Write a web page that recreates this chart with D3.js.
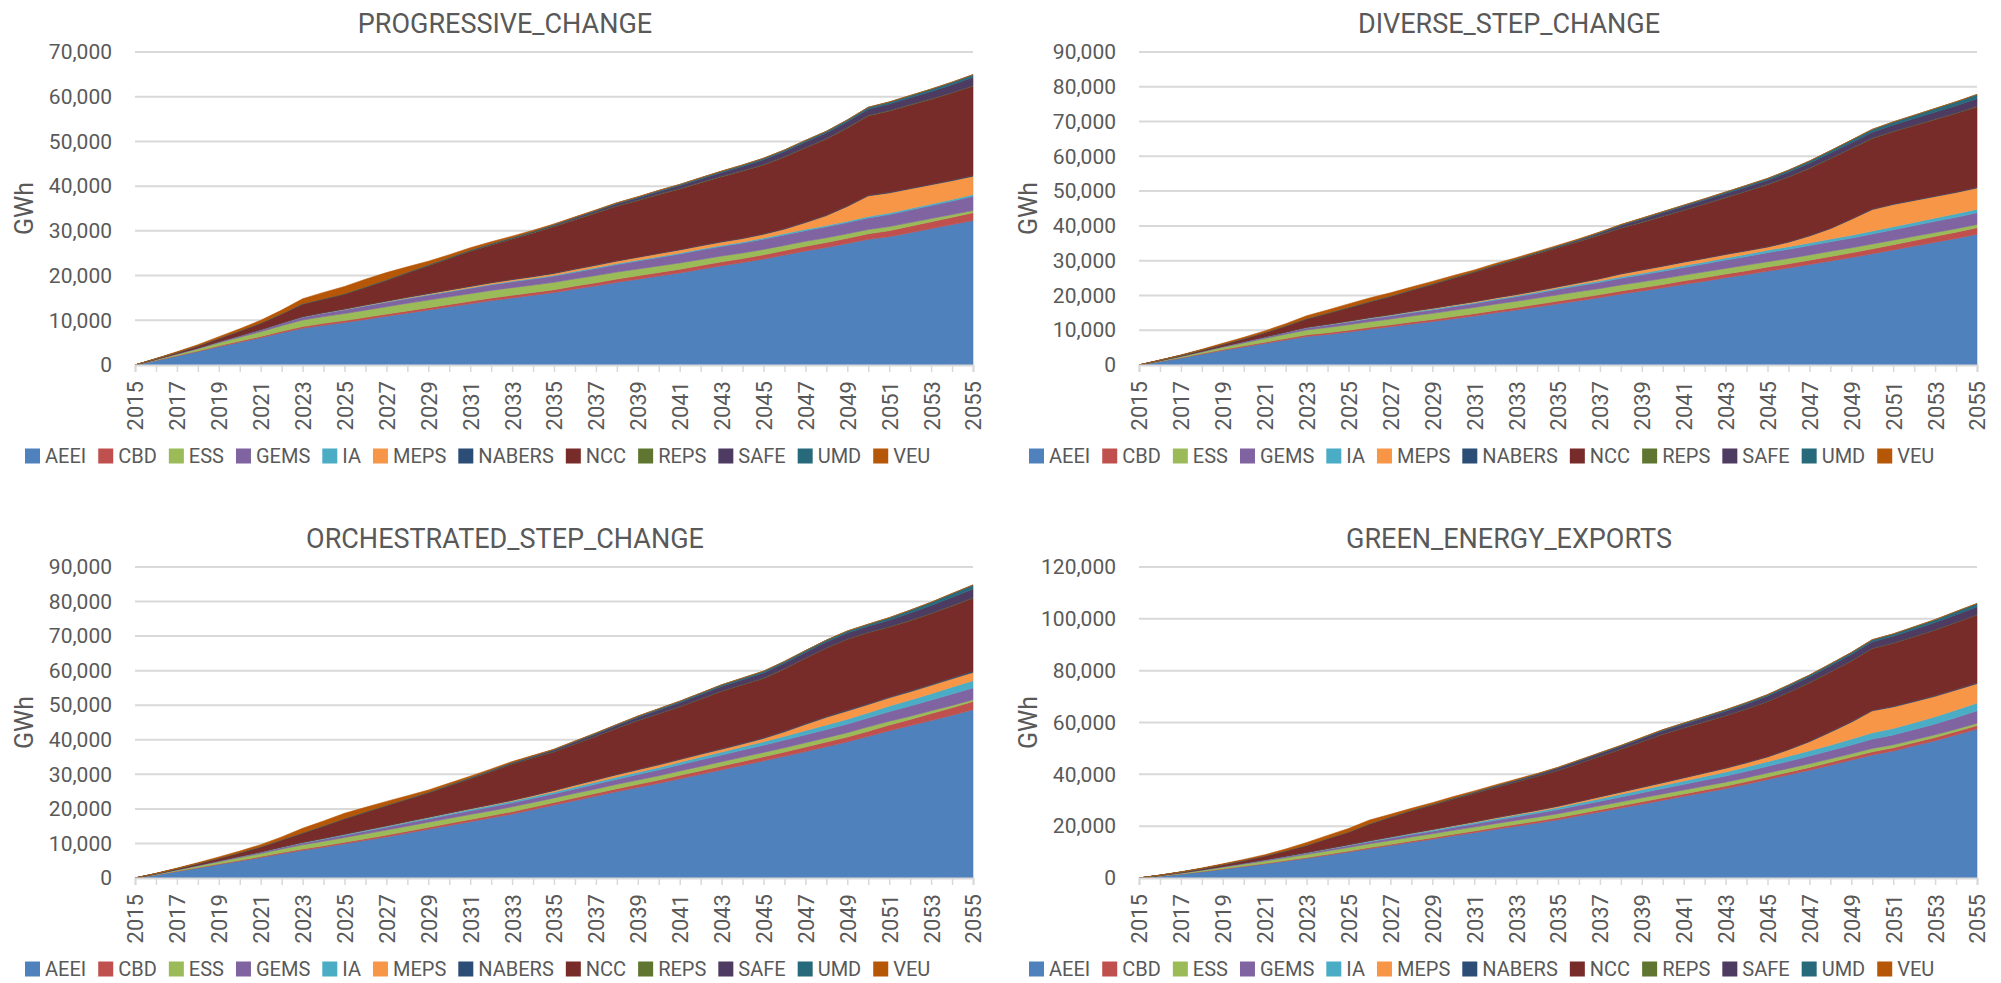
<!DOCTYPE html>
<html>
<head>
<meta charset="utf-8">
<script src="https://cdn.jsdelivr.net/npm/d3@7"></script>
<style>
  html, body { margin: 0; padding: 0; background: #ffffff; }
  svg text { font-family: Roboto, "Liberation Sans", Arial, sans-serif; fill: #595959; }
</style>
</head>
<body>
<svg id="chart" width="2001" height="983"></svg>
<script>
// ---- categories ----
const years = [2015,2016,2017,2018,2019,2020,2021,2022,2023,2024,2025,2026,2027,2028,2029,2030,2031,2032,2033,2034,2035,
               2036,2037,2038,2039,2040,2041,2042,2043,2044,2045,2046,2047,2048,2049,2050,2051,2052,2053,2054,2055];
const seriesNames = ["AEEI","CBD","ESS","GEMS","IA","MEPS","NABERS","NCC","REPS","SAFE","UMD","VEU"];
const scenarioTitles = ["PROGRESSIVE_CHANGE","DIVERSE_STEP_CHANGE","ORCHESTRATED_STEP_CHANGE","GREEN_ENERGY_EXPORTS"];
const yAxisMax  = [70000, 90000, 90000, 120000];
const yAxisStep = [10000, 10000, 10000, 20000];

// ---- PROGRESSIVE_CHANGE (GWh) ----
const PC_AEEI   = [0,1000,2000,3000,4100,5100,6100,7200,8200,8900,9500,10200,10900,11600,12300,13000,13700,14400,15000,15600,16200,17000,17700,18500,19200,19900,20600,21400,22200,22900,23700,24600,25500,26300,27200,28100,28700,29600,30500,31400,32300];
const PC_CBD    = [0,50,100,150,200,250,300,350,400,420,440,460,480,500,520,540,560,580,600,620,640,670,700,730,760,790,820,850,880,910,950,1000,1050,1100,1150,1250,1350,1450,1550,1650,1750];
const PC_ESS    = [0,150,300,450,650,850,1050,1250,1450,1500,1550,1600,1650,1700,1700,1700,1700,1700,1700,1650,1650,1600,1600,1550,1500,1450,1400,1350,1300,1250,1200,1150,1100,1050,1000,950,900,800,700,600,500];
const PC_GEMS   = [0,60,120,180,250,330,420,520,650,750,850,950,1000,1050,1100,1150,1200,1250,1300,1350,1400,1500,1600,1700,1800,1900,2000,2100,2150,2200,2300,2350,2400,2450,2500,2600,2700,2800,2900,3000,3200];
const PC_IA     = [0,5,10,15,20,30,40,50,60,70,80,90,100,110,120,130,140,150,160,170,180,190,200,210,220,230,240,250,260,270,280,290,300,310,320,330,340,350,360,370,380];
const PC_MEPS   = [0,0,0,0,0,0,0,0,30,60,90,120,150,180,210,240,270,300,330,360,400,450,500,550,600,650,680,700,720,750,800,1000,1500,2200,3300,4600,4500,4400,4300,4200,4100];
const PC_NABERS = [0,5,10,15,20,25,30,35,40,45,50,55,60,65,70,75,80,85,90,95,100,100,100,100,100,100,110,110,110,110,120,120,120,120,130,130,130,140,140,150,150];
const PC_NCC    = [0,100,250,450,700,1000,1400,2000,2800,3000,3300,3900,4600,5400,6200,7000,7800,8400,9000,9700,10400,11000,11600,12200,12600,13100,13500,14000,14500,15000,15400,16000,16600,17000,17400,17800,18200,18600,19000,19500,20000];
const PC_REPS   = [0,5,10,15,20,25,30,35,40,45,50,55,60,65,70,75,80,85,90,95,100,100,100,100,100,100,100,100,100,100,100,100,100,100,100,100,100,100,100,100,100];
const PC_SAFE   = [0,0,0,0,0,0,0,0,0,0,0,0,0,20,40,60,80,100,130,160,200,260,330,400,480,560,650,740,830,920,1050,1120,1180,1240,1290,1340,1430,1520,1620,1720,1850];
const PC_UMD    = [0,5,10,15,20,25,30,35,40,45,50,55,60,70,80,90,100,110,120,130,140,160,180,200,220,240,260,280,300,320,340,360,380,400,420,440,470,500,530,560,600];
const PC_VEU    = [0,80,160,250,350,450,600,800,1100,1400,1600,1700,1600,1200,800,600,500,400,300,200,150,100,80,60,50,40,30,20,10,0,0,0,0,0,0,0,0,0,0,0,0];

// ---- DIVERSE_STEP_CHANGE (GWh) ----
const DS_AEEI   = [0,1000,2000,3100,4200,5200,6200,7200,8200,8800,9500,10300,11000,11800,12500,13300,14100,15000,15800,16700,17600,18500,19400,20400,21300,22200,23200,24100,25100,26000,27000,27900,28900,29900,30900,32000,33100,34200,35300,36400,37600];
const DS_CBD    = [0,60,120,180,240,300,360,420,480,500,520,540,560,580,600,630,660,690,720,750,780,810,840,880,920,960,1000,1040,1080,1120,1160,1200,1250,1300,1350,1400,1500,1600,1700,1800,1900];
const DS_ESS    = [0,150,300,450,650,850,1050,1250,1400,1500,1550,1600,1650,1700,1750,1800,1800,1800,1800,1800,1800,1800,1750,1750,1700,1700,1650,1650,1600,1600,1550,1550,1500,1500,1450,1400,1300,1200,1100,1000,900];
const DS_GEMS   = [0,50,100,170,240,320,400,500,600,700,800,850,900,950,1000,1050,1100,1200,1300,1400,1600,1700,1800,1900,2000,2100,2200,2300,2400,2500,2600,2650,2700,2750,2800,2900,3000,3100,3200,3300,3400];
const DS_IA     = [0,10,20,30,40,50,60,80,100,120,140,160,180,200,220,240,260,280,300,330,350,380,410,440,470,500,530,560,600,650,700,720,740,760,780,800,850,900,950,1000,1000];
const DS_MEPS   = [0,0,0,0,0,0,0,0,50,80,110,140,170,200,230,260,280,300,320,340,350,450,600,800,900,950,1000,1000,1000,950,900,1300,2000,3000,4600,6200,6400,6300,6200,6100,6100];
const DS_NABERS = [0,5,10,15,20,25,30,35,40,45,50,55,60,65,70,75,80,85,90,95,100,100,100,110,110,110,120,120,120,130,130,130,140,140,150,150,160,160,170,170,180];
const DS_NCC    = [0,80,200,350,550,800,1200,1700,2400,3100,3800,4500,5200,6000,6800,7600,8400,9200,9900,10600,11200,11800,12500,13100,13600,14200,14800,15500,16200,17000,17800,18600,19300,20000,20200,20300,20800,21400,22000,22600,23200];
const DS_REPS   = [0,5,10,15,20,25,30,35,40,45,50,55,60,65,70,75,80,85,90,95,100,100,100,100,100,100,100,100,100,100,100,100,100,100,100,100,100,100,100,100,100];
const DS_SAFE   = [0,0,0,0,0,0,0,0,0,0,0,0,0,0,20,40,60,80,100,130,200,300,450,600,800,950,1000,1050,1100,1150,1200,1300,1400,1500,1600,1700,1800,1900,2000,2100,2200];
const DS_UMD    = [0,5,10,15,20,25,30,35,40,45,50,55,60,70,80,90,100,120,140,160,180,200,220,250,280,300,340,380,420,460,500,560,620,680,740,800,880,960,1040,1120,1200];
const DS_VEU    = [0,60,130,200,280,360,450,600,800,900,1000,1000,900,800,700,550,400,350,300,250,200,150,100,80,60,40,30,20,10,0,0,0,0,0,0,0,0,0,0,0,0];

// ---- ORCHESTRATED_STEP_CHANGE (GWh) ----
const OS_AEEI   = [0,900,1900,2900,3900,4900,5900,7000,8000,8900,9900,10900,11900,13000,14100,15200,16300,17400,18500,19800,21100,22400,23700,25000,26200,27400,28700,30000,31300,32600,33900,35200,36600,38000,39400,41000,42600,44100,45600,47100,48700];
const OS_CBD    = [0,50,100,150,200,250,300,350,400,430,460,490,520,550,580,610,640,670,700,730,760,790,820,860,900,950,1000,1050,1100,1150,1200,1250,1300,1350,1400,1500,1650,1800,2000,2200,2400];
const OS_ESS    = [0,150,300,450,600,750,900,1050,1200,1300,1350,1400,1450,1450,1450,1450,1450,1400,1400,1350,1300,1300,1250,1250,1250,1250,1250,1250,1250,1250,1250,1250,1250,1250,1250,1250,1100,900,800,650,500];
const OS_GEMS   = [0,50,100,160,220,290,360,440,520,600,680,760,830,900,960,1020,1080,1120,1160,1180,1200,1300,1400,1500,1600,1700,1800,1900,1950,2050,2100,2200,2300,2400,2500,2600,2800,3000,3100,3300,3400];
const OS_IA     = [0,10,20,40,60,80,100,130,160,190,220,250,280,310,340,370,400,430,470,510,550,580,610,640,670,700,750,800,850,900,1000,1100,1200,1300,1400,1450,1600,1700,1850,2000,2100];
const OS_MEPS   = [0,0,0,0,0,0,0,0,30,50,70,90,110,130,150,170,190,220,250,300,400,500,600,650,700,750,780,800,820,850,950,1300,1800,2200,2400,2400,2400,2400,2400,2400,2400];
const OS_NABERS = [0,5,10,15,20,25,30,35,40,45,50,55,60,65,70,75,80,85,90,95,100,110,120,130,140,150,160,170,180,190,200,210,220,230,240,250,260,270,280,290,300];
const OS_NCC    = [0,100,250,450,700,1000,1400,2000,2650,3500,4400,5100,5800,6400,7000,7800,8600,9500,10400,10800,11100,11800,12500,13300,14100,14600,15100,15800,16600,16900,17150,18000,18900,19800,20500,20600,20200,20300,20500,20800,21200];
const OS_REPS   = [0,5,10,15,20,25,30,35,40,45,50,55,60,65,70,75,80,85,90,95,100,100,100,100,100,100,100,100,100,100,100,100,100,100,100,100,100,100,100,100,100];
const OS_SAFE   = [0,0,0,0,0,0,0,0,0,0,0,0,0,0,50,100,150,200,250,300,400,500,600,700,850,1000,1100,1200,1300,1400,1500,1550,1600,1650,1700,1700,1900,2100,2200,2400,2500];
const OS_UMD    = [0,5,10,15,20,25,30,35,40,45,50,55,60,70,80,90,100,120,140,160,180,200,240,280,320,400,420,440,460,480,500,520,540,560,580,600,720,840,960,1080,1200];
const OS_VEU    = [0,80,160,250,350,450,600,800,1300,1400,1500,1300,1100,850,600,500,400,330,250,170,100,70,50,30,20,10,0,0,0,0,0,0,0,0,0,0,0,0,0,0,0];

// ---- GREEN_ENERGY_EXPORTS (GWh) ----
const GE_AEEI   = [0,700,1500,2400,3400,4400,5400,6500,7600,8800,10000,11300,12500,13800,15000,16300,17500,18800,20000,21200,22500,24000,25500,27000,28500,30000,31500,33000,34500,36200,38000,39800,41600,43500,45500,47500,49000,51000,53000,55200,57500];
const GE_CBD    = [0,40,80,120,160,200,240,280,320,360,400,440,480,520,560,600,640,680,720,760,800,830,860,890,920,950,960,970,980,990,1000,1040,1080,1120,1160,1200,1220,1240,1260,1280,1300];
const GE_ESS    = [0,150,300,450,600,750,900,1050,1200,1300,1400,1450,1500,1500,1500,1500,1500,1500,1500,1500,1500,1500,1500,1500,1500,1500,1500,1500,1500,1500,1500,1450,1400,1350,1300,1300,1200,1100,1000,950,900];
const GE_GEMS   = [0,50,100,150,220,300,380,460,540,620,700,780,860,940,1020,1100,1200,1300,1400,1500,1600,1700,1800,1900,2000,2100,2200,2300,2400,2500,2600,2800,3000,3200,3400,3600,3800,4000,4200,4500,4800];
const GE_IA     = [0,10,20,40,60,80,110,140,170,210,250,290,330,380,430,480,530,590,650,720,800,880,960,1040,1120,1200,1300,1400,1500,1650,1800,1900,2000,2100,2250,2400,2500,2600,2750,2900,3000];
const GE_MEPS   = [0,0,0,0,0,0,0,0,30,60,90,120,150,180,210,250,300,350,400,450,500,600,700,800,900,1000,1150,1300,1450,1600,1800,2500,3500,5000,6500,8500,8300,8100,7900,7700,7500];
const GE_NABERS = [0,5,10,15,20,25,30,35,40,45,50,55,60,65,70,75,80,85,90,95,100,110,120,130,140,150,160,170,180,190,200,210,220,230,240,250,260,270,280,290,300];
const GE_NCC    = [0,100,250,450,700,1000,1400,2000,2700,3800,4800,6400,7600,8600,9400,10200,10900,11600,12300,13000,13700,14600,15500,16400,17500,18600,19100,19600,20100,20600,21150,21900,22500,23000,23400,23800,24300,24800,25300,25800,26200];
const GE_REPS   = [0,5,10,15,20,25,30,35,40,45,50,55,60,65,70,75,80,85,90,95,100,100,100,100,100,100,100,100,100,100,100,100,100,100,100,100,100,100,100,100,100];
const GE_SAFE   = [0,0,0,0,0,0,0,0,0,0,0,0,0,50,100,200,300,400,500,600,800,880,960,1040,1120,1200,1350,1500,1650,1800,2000,2100,2200,2300,2400,2500,2600,2700,2800,2900,3000];
const GE_UMD    = [0,5,10,15,20,25,30,35,40,45,50,55,60,80,100,120,140,160,180,200,200,240,280,320,360,400,440,480,520,560,600,640,680,720,760,800,900,1000,1100,1200,1300];
const GE_VEU    = [0,60,120,200,280,350,450,650,1000,1150,1300,1400,1000,700,600,500,420,360,300,200,150,100,70,50,30,20,10,0,0,0,0,0,0,0,0,0,0,0,0,0,0];

// ---- styling ----
const seriesColors = ["#4F81BD","#C0504D","#9BBB59","#8064A2","#4BACC6","#F79646",
                      "#2C4D75","#772C2A","#5F7530","#4D3B62","#276A7C","#B65708"];
const textColor = "#595959";
const gridColor = "#d9d9d9";
const fontStack = "Roboto, 'Liberation Sans', sans-serif";

// Table of series per scenario, in stacking order
const scenarioSeries = [
  [PC_AEEI,PC_CBD,PC_ESS,PC_GEMS,PC_IA,PC_MEPS,PC_NABERS,PC_NCC,PC_REPS,PC_SAFE,PC_UMD,PC_VEU],
  [DS_AEEI,DS_CBD,DS_ESS,DS_GEMS,DS_IA,DS_MEPS,DS_NABERS,DS_NCC,DS_REPS,DS_SAFE,DS_UMD,DS_VEU],
  [OS_AEEI,OS_CBD,OS_ESS,OS_GEMS,OS_IA,OS_MEPS,OS_NABERS,OS_NCC,OS_REPS,OS_SAFE,OS_UMD,OS_VEU],
  [GE_AEEI,GE_CBD,GE_ESS,GE_GEMS,GE_IA,GE_MEPS,GE_NABERS,GE_NCC,GE_REPS,GE_SAFE,GE_UMD,GE_VEU]
];

// Panel layout: origin of each chart block, and plot-area offsets inside it
const panelOrigins = [[0,0],[1004,0],[0,515],[1004,515]];
const plotLeft = 135, plotRight = 973;
const rowBox = [{top:52, bottom:365}, {top:52, bottom:363}];

const svg = d3.select("#chart");
svg.append("rect").attr("width",2001).attr("height",983).attr("fill","#ffffff");

scenarioTitles.forEach((title, si) => {
  const [ox, oy] = panelOrigins[si];
  const box = rowBox[si < 2 ? 0 : 1];
  const g = svg.append("g").attr("transform", `translate(${ox},${oy})`);

  const rows = years.map((yr, i) => {
    const r = {year: yr};
    seriesNames.forEach((name, k) => { r[name] = scenarioSeries[si][k][i]; });
    return r;
  });

  const x = d3.scaleLinear().domain([years[0], years[years.length - 1]]).range([plotLeft, plotRight]);
  const y = d3.scaleLinear().domain([0, yAxisMax[si]]).range([box.bottom, box.top]);

  // horizontal gridlines
  const yTicks = d3.range(0, yAxisMax[si] + 1, yAxisStep[si]);
  g.append("g").selectAll("line").data(yTicks.filter(v => v > 0)).join("line")
    .attr("x1", plotLeft).attr("x2", plotRight)
    .attr("y1", d => y(d)).attr("y2", d => y(d))
    .attr("stroke", gridColor).attr("stroke-width", 2);

  // stacked areas
  const layers = d3.stack().keys(seriesNames)(rows);
  const area = d3.area()
    .x(d => x(d.data.year))
    .y0(d => y(d[0]))
    .y1(d => y(d[1]));
  g.append("g").selectAll("path").data(layers).join("path")
    .attr("d", area)
    .attr("fill", (d, k) => seriesColors[k])
    .attr("stroke", (d, k) => seriesColors[k])
    .attr("stroke-width", 0.6);

  // y axis labels
  const yAxis = d3.axisLeft(y).tickValues(yTicks).tickSize(0).tickPadding(23)
    .tickFormat(d3.format(","));
  const ya = g.append("g").attr("transform", `translate(${plotLeft},0)`).call(yAxis);
  ya.select(".domain").remove();
  ya.selectAll("text").attr("font-size", 21).attr("fill", textColor).style("font-family", fontStack);

  // x axis with a tick at every year, labels every second year
  const xAxis = d3.axisBottom(x).tickValues(years).tickSize(7)
    .tickFormat(d => ((d - years[0]) % 2 === 0 ? String(d) : ""));
  const xa = g.append("g").attr("transform", `translate(0,${box.bottom})`).call(xAxis);
  xa.select(".domain").attr("stroke", gridColor).attr("stroke-width", 2);
  xa.selectAll(".tick line").attr("stroke", gridColor).attr("stroke-width", 1.5);
  xa.selectAll("text")
    .attr("transform", "rotate(-90)")
    .attr("x", -16).attr("y", 0).attr("dy", "0.36em")
    .attr("text-anchor", "end")
    .attr("font-size", 22).attr("fill", textColor).style("font-family", fontStack);

  // y axis title
  g.append("text")
    .attr("transform", `translate(33,${(box.top + box.bottom) / 2}) rotate(-90)`)
    .attr("text-anchor", "middle")
    .attr("font-size", 25)
    .text("GWh");

  // chart title
  g.append("text")
    .attr("x", 505).attr("y", 33)
    .attr("text-anchor", "middle")
    .attr("font-size", 27)
    .text(title);

  // legend
  const legendY = box.bottom + 91;
  let lx = 25;
  seriesNames.forEach((name, k) => {
    g.append("rect").attr("x", lx).attr("y", legendY - 7.5)
      .attr("width", 15).attr("height", 15).attr("fill", seriesColors[k]);
    const t = g.append("text").attr("x", lx + 20).attr("y", legendY)
      .attr("dy", "0.36em").attr("font-size", 20).text(name);
    lx += 20 + t.node().getComputedTextLength() + 12;
  });
});
</script>
</body>
</html>
